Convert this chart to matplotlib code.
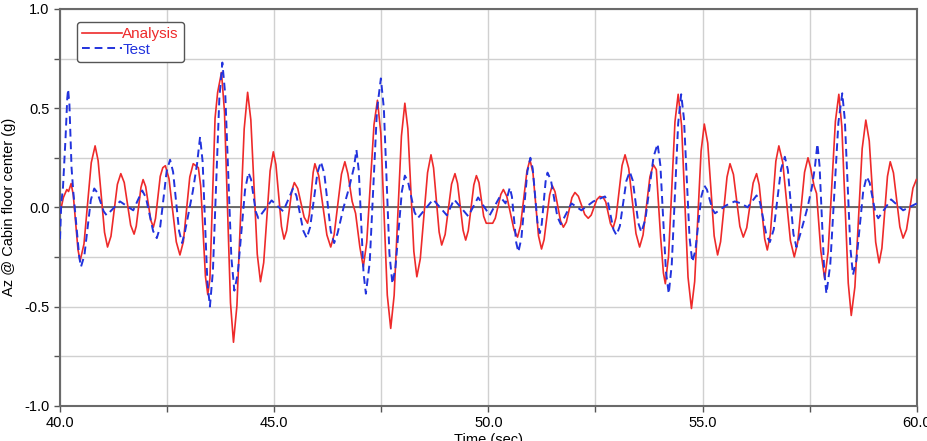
import matplotlib
matplotlib.use("Agg")
import matplotlib.pyplot as plt
from matplotlib.ticker import MultipleLocator, FormatStrFormatter

plt.rcParams['font.family'] = ['Liberation Sans', 'DejaVu Sans']

# Analysis (red): time (s) and Az (g)
analysis_t = [40.00, 40.08, 40.16, 40.20, 40.26, 40.31, 40.42, 40.47, 40.56, 40.73, 40.82, 40.89,
              41.04, 41.11, 41.19, 41.34, 41.42, 41.50, 41.65, 41.73, 41.78, 41.89, 41.94, 42.00,
              42.12, 42.18, 42.23, 42.34, 42.40, 42.46, 42.545, 42.715, 42.80, 42.88, 43.03, 43.11,
              43.23, 43.285, 43.395, 43.45, 43.50, 43.62, 43.68, 43.77, 43.84, 43.98, 44.05, 44.13,
              44.30, 44.38, 44.455, 44.605, 44.68, 44.755, 44.905, 44.98, 45.04, 45.17, 45.23, 45.29,
              45.41, 45.47, 45.55, 45.70, 45.78, 45.82, 45.91, 45.95, 46.04, 46.23, 46.32, 46.40,
              46.57, 46.65, 46.72, 46.82, 46.90, 47.00, 47.08, 47.16, 47.33, 47.41, 47.49, 47.64,
              47.72, 47.80, 47.97, 48.05, 48.12, 48.26, 48.33, 48.41, 48.58, 48.66, 48.72, 48.85,
              48.91, 48.99, 49.14, 49.22, 49.28, 49.41, 49.47, 49.53, 49.66, 49.72, 49.78, 49.89,
              49.95, 50.10, 50.16, 50.29, 50.35, 50.43, 50.60, 50.68, 50.75, 50.90, 50.97, 51.04,
              51.17, 51.24, 51.30, 51.43, 51.49, 51.555, 51.685, 51.75, 51.82, 51.95, 52.02, 52.10,
              52.25, 52.33, 52.40, 52.53, 52.60, 52.68, 52.74, 52.85, 52.91, 52.98, 53.12, 53.19,
              53.275, 53.445, 53.53, 53.61, 53.77, 53.85, 53.92, 54.02, 54.085, 54.13, 54.205, 54.355,
              54.43, 54.51, 54.66, 54.74, 54.815, 54.965, 55.04, 55.12, 55.27, 55.35, 55.42, 55.57,
              55.64, 55.72, 55.87, 55.95, 56.03, 56.18, 56.26, 56.32, 56.45, 56.51, 56.58, 56.71,
              56.78, 56.87, 57.05, 57.14, 57.22, 57.38, 57.46, 57.52, 57.60, 57.66, 57.76, 57.85,
              57.93, 58.10, 58.18, 58.25, 58.40, 58.47, 58.555, 58.725, 58.81, 58.89, 59.04, 59.12,
              59.185, 59.315, 59.38, 59.455, 59.605, 59.68, 59.76, 59.91, 59.99]
analysis_v = [-0.03, 0.05, 0.09, 0.08, 0.12, 0.063, -0.213, -0.27, -0.185, 0.225, 0.31, 0.236,
              -0.126, -0.20, -0.146, 0.116, 0.17, 0.125, -0.09, -0.135, -0.095, 0.10, 0.14, 0.105,
              -0.065, -0.10, -0.056, 0.156, 0.20, 0.21, 0.144, -0.174, -0.24, -0.173, 0.153, 0.22,
              0.20, 0.107, -0.347, -0.44, -0.36, 0.45, 0.58, 0.68, 0.481, -0.481, -0.68, -0.496,
              0.396, 0.58, 0.441, -0.236, -0.375, -0.279, 0.184, 0.28, 0.216, -0.096, -0.16, -0.118,
              0.083, 0.125, 0.095, -0.05, -0.08, -0.036, 0.176, 0.22, 0.159, -0.139, -0.20, -0.137,
              0.167, 0.23, 0.17, 0.03, -0.03, -0.20, -0.30, -0.177, 0.417, 0.54, 0.372, -0.442,
              -0.61, -0.444, 0.359, 0.525, 0.397, -0.222, -0.35, -0.26, 0.175, 0.265, 0.199, -0.124,
              -0.19, -0.137, 0.117, 0.17, 0.121, -0.116, -0.165, -0.118, 0.113, 0.16, 0.125, -0.045,
              -0.08, -0.08, -0.055, 0.065, 0.09, 0.055, -0.115, -0.15, -0.093, 0.183, 0.24, 0.174,
              -0.144, -0.21, -0.163, 0.063, 0.11, 0.079, -0.069, -0.10, -0.074, 0.049, 0.075, 0.056,
              -0.036, -0.055, -0.039, 0.039, 0.055, 0.05, 0.027, -0.082, -0.105, -0.051, 0.211, 0.265,
              0.197, -0.132, -0.20, -0.139, 0.154, 0.215, 0.19, -0.15, -0.33, -0.385, -0.246, 0.431,
              0.57, 0.412, -0.352, -0.51, -0.374, 0.284, 0.42, 0.324, -0.144, -0.24, -0.173, 0.153,
              0.22, 0.166, -0.096, -0.15, -0.103, 0.123, 0.17, 0.114, -0.159, -0.215, -0.138, 0.233,
              0.31, 0.228, -0.168, -0.25, -0.177, 0.177, 0.25, 0.20, 0.11, 0.07, -0.22, -0.36,
              -0.224, 0.434, 0.57, 0.407, -0.382, -0.545, -0.401, 0.296, 0.44, 0.335, -0.175, -0.28,
              -0.206, 0.156, 0.23, 0.174, -0.099, -0.155, -0.112, 0.097, 0.14]

# Test (blue dashed)
test_t = [40.00, 40.03, 40.07, 40.13, 40.17, 40.19, 40.22, 40.27, 40.31, 40.40, 40.45, 40.49,
          40.57, 40.72, 40.80, 40.87, 41.02, 41.09, 41.40, 41.71, 41.92, 42.005, 42.175, 42.26,
          42.34, 42.49, 42.57, 42.64, 42.78, 42.85, 42.92, 43.10, 43.20, 43.27, 43.33, 43.44,
          43.50, 43.57, 43.72, 43.79, 43.86, 44.00, 44.07, 44.15, 44.32, 44.40, 44.46, 44.57,
          44.63, 44.94, 45.21, 45.44, 45.52, 45.68, 45.76, 45.84, 46.01, 46.09, 46.17, 46.32,
          46.40, 46.48, 46.62, 46.75, 46.86, 46.92, 46.975, 47.085, 47.14, 47.23, 47.40, 47.49,
          47.56, 47.69, 47.76, 47.83, 47.98, 48.05, 48.125, 48.275, 48.35, 48.71, 49.03, 49.20,
          49.53, 49.76, 50.03, 50.27, 50.40, 50.50, 50.55, 50.65, 50.70, 50.77, 50.91, 50.98,
          51.035, 51.145, 51.20, 51.245, 51.335, 51.38, 51.46, 51.61, 51.69, 51.94, 52.17, 52.45,
          52.72, 52.79, 52.92, 52.99, 53.07, 53.22, 53.30, 53.37, 53.50, 53.57, 53.665, 53.855,
          53.95, 54.015, 54.145, 54.21, 54.28, 54.43, 54.50, 54.565, 54.695, 54.76, 54.83, 54.97,
          55.04, 55.10, 55.23, 55.29, 55.55, 55.75, 55.90, 56.05, 56.26, 56.34, 56.49, 56.57,
          56.66, 56.83, 56.92, 56.99, 57.12, 57.19, 57.30, 57.45, 57.55, 57.62, 57.68, 57.73,
          57.84, 57.89, 57.98, 58.17, 58.26, 58.32, 58.45, 58.51, 58.59, 58.75, 58.83, 58.90,
          59.03, 59.10, 59.40, 59.68, 60.00]
test_v = [-0.16, 0.02, 0.10, 0.35, 0.55, 0.595, 0.52, 0.20, 0.08, -0.13, -0.25, -0.30,
          -0.242, 0.037, 0.095, 0.075, -0.02, -0.04, 0.03, -0.015, 0.085, 0.05, -0.12, -0.155,
          -0.097, 0.182, 0.24, 0.179, -0.119, -0.18, -0.12, 0.08, 0.22, 0.355, 0.23, -0.375,
          -0.50, -0.32, 0.55, 0.73, 0.562, -0.252, -0.42, -0.333, 0.088, 0.175, 0.141, -0.021,
          -0.055, 0.035, -0.02, 0.095, 0.058, -0.118, -0.155, -0.099, 0.174, 0.23, 0.17, -0.12,
          -0.18, -0.13, 0.0, 0.10, 0.20, 0.29, 0.184, -0.329, -0.435, -0.277, 0.492, 0.65,
          0.499, -0.234, -0.385, -0.305, 0.08, 0.16, 0.129, -0.024, -0.055, 0.04, -0.04, 0.04,
          -0.045, 0.05, -0.04, 0.055, 0.02, 0.10, 0.053, -0.178, -0.225, -0.156, 0.181, 0.25,
          0.195, -0.075, -0.13, -0.085, 0.13, 0.175, 0.137, -0.047, -0.085, 0.02, -0.015, 0.03,
          0.055, 0.027, -0.112, -0.14, -0.093, 0.133, 0.18, 0.135, -0.08, -0.125, -0.06, 0.255,
          0.32, 0.21, -0.325, -0.435, -0.288, 0.423, 0.57, 0.447, -0.152, -0.275, -0.219, 0.054,
          0.11, 0.09, -0.01, -0.03, 0.01, 0.03, 0.02, 0.0, 0.06, 0.026, -0.141, -0.175,
          -0.112, 0.192, 0.255, 0.189, -0.134, -0.20, -0.12, 0.0, 0.10, 0.20, 0.32, 0.21,
          -0.325, -0.435, -0.288, 0.428, 0.575, 0.441, -0.206, -0.34, -0.268, 0.083, 0.155, 0.124,
          -0.024, -0.055, 0.04, -0.015, 0.02]

fig = plt.figure(figsize=(9.27, 4.41), dpi=100)
ax = fig.add_axes([0.0647, 0.080, 0.9243, 0.8996])

ax.axhline(0, color='#555555', lw=1.2, zorder=2)
ax.plot(analysis_t, analysis_v, color='#ee2a2a', lw=1.2, label='Analysis', zorder=3,
        solid_joinstyle='round')
ax.plot(test_t, test_v, color='#2233dd', lw=1.4, ls=(0, (4, 2.5)), label='Test', zorder=4)

ax.set_xlim(40, 60)
ax.set_ylim(-1, 1)
ax.xaxis.set_major_locator(MultipleLocator(5))
ax.xaxis.set_minor_locator(MultipleLocator(2.5))
ax.yaxis.set_major_locator(MultipleLocator(0.5))
ax.yaxis.set_minor_locator(MultipleLocator(0.25))
ax.xaxis.set_major_formatter(FormatStrFormatter('%.1f'))
ax.yaxis.set_major_formatter(FormatStrFormatter('%.1f'))
ax.grid(which='both', color='#d0d0d0', lw=1.0, zorder=0)
ax.set_axisbelow(True)
ax.tick_params(which='both', direction='out', length=4, color='#555555', labelsize=10.5, width=1)
for s in ax.spines.values():
    s.set_color('#6a6a6a')
    s.set_linewidth(1.5)

ax.set_xlabel('Time (sec)', fontsize=10.5, labelpad=2)
ax.set_ylabel('Az @ Cabin floor center (g)', fontsize=10.5, labelpad=6)

leg = ax.legend(loc='upper left', bbox_to_anchor=(0.02, 0.968), handlelength=2.6, handletextpad=0.0,
                fontsize=11, labelcolor='linecolor', frameon=True, fancybox=True,
                borderpad=0.35, labelspacing=0.1, borderaxespad=0.0)
leg.get_frame().set_edgecolor('#555555')
leg.get_frame().set_linewidth(1.0)
leg.get_frame().set_alpha(1)

fig.savefig('out.png', dpi=100)
